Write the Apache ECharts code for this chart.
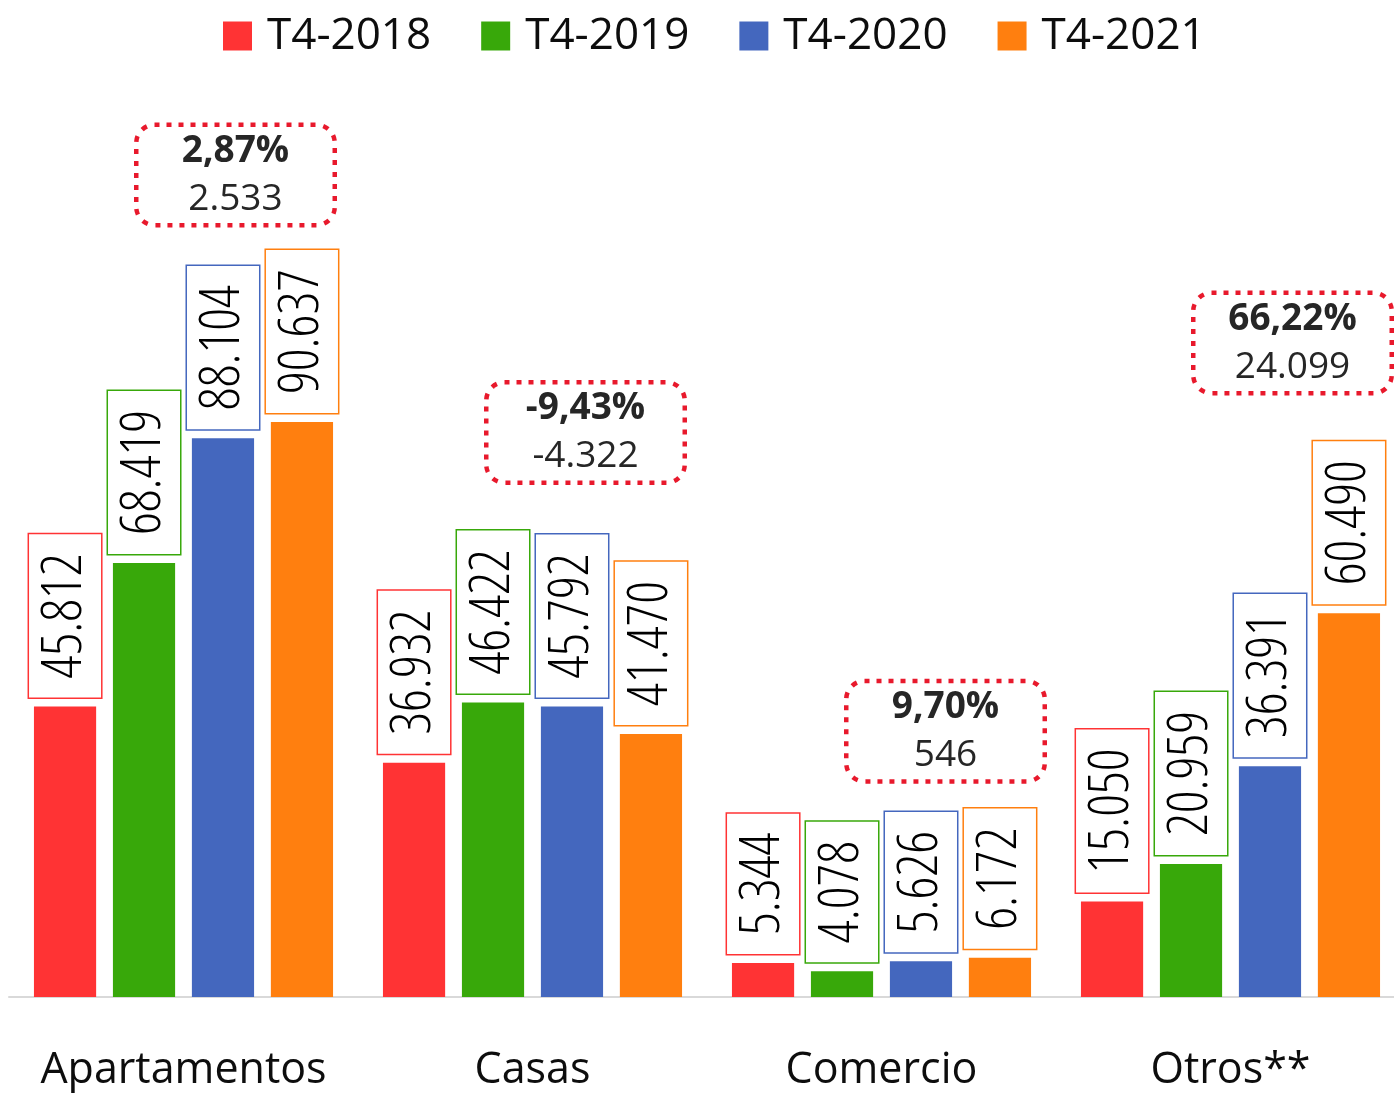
<!DOCTYPE html>
<html>
<head>
<meta charset="utf-8">
<script src="https://cdn.jsdelivr.net/npm/echarts@6/dist/echarts.min.js"></script>
<style>
  html, body { margin: 0; padding: 0; background: #ffffff; overflow: hidden; }
  #chart { width: 1405px; height: 1093px; }
</style>
</head>
<body>
<div id="chart"></div>
<script>
// ---- data ----
const categories = ['Apartamentos', 'Casas', 'Comercio', 'Otros**'];
const seriesNames = ['T4-2018', 'T4-2019', 'T4-2020', 'T4-2021'];
const v2018 = [45812, 36932, 5344, 15050];
const v2019 = [68419, 46422, 4078, 20959];
const v2020 = [88104, 45792, 5626, 36391];
const v2021 = [90637, 41470, 6172, 60490];
const pctChange = ['2,87%', '-9,43%', '9,70%', '66,22%'];
const absChange = ['2.533', '-4.322', '546', '24.099'];

// ---- layout / style ----
const colors = ['#FF3334', '#38A80A', '#4467BE', '#FF7F0F'];
const annotY = [129600, 89000, 41900, 103100];   // vertical anchor of each change box (value units)
const annotDx = [52, 53, 64, 62];                 // horizontal shift from category centre (px)

function fmt(v) {
  return String(v).replace(/\B(?=(\d{3})+(?!\d))/g, '.');
}

const chart = echarts.init(document.getElementById('chart'), null, { renderer: 'canvas' });

const allValues = [v2018, v2019, v2020, v2021];
const barSeries = allValues.map((vals, i) => ({
  name: seriesNames[i],
  type: 'bar',
  data: vals,
  barGap: '27%',
  barCategoryGap: '14.3%',
  itemStyle: { color: colors[i] },
  label: {
    show: true,
    position: 'top',
    distance: 9,
    rotate: 90,
    align: 'left',
    verticalAlign: 'middle',
    formatter: p => fmt(p.value),
    fontFamily: "'Open Sans', sans-serif",
    fontWeight: '300 condensed',
    fontSize: 56,
    lineHeight: 56,
    color: '#000000',
    backgroundColor: '#ffffff',
    borderColor: colors[i],
    borderWidth: 1.5,
    padding: [8, 19, 8, 19]
  }
}));

const annotSeries = {
  type: 'scatter',
  silent: true,
  symbolSize: 1,
  itemStyle: { color: 'rgba(0,0,0,0)', opacity: 1 },
  z: 5,
  data: categories.map((c, i) => ({
    value: [i, annotY[i]],
    label: { offset: [annotDx[i], 0] }
  })),
  label: {
    show: true,
    position: 'inside',
    formatter: p => '{b|' + pctChange[p.dataIndex] + '}\n{n|' + absChange[p.dataIndex] + '}',
    width: 190,
    align: 'center',
    verticalAlign: 'middle',
    backgroundColor: '#ffffff',
    borderColor: '#E8192C',
    borderWidth: 4.5,
    borderType: [5, 7],
    borderRadius: 16,
    padding: [0, 2],
    rich: {
      b: { fontFamily: "'Open Sans', sans-serif", fontWeight: 'bold', fontSize: 37, lineHeight: 48, color: '#262626', align: 'center' },
      n: { fontFamily: "'Open Sans', sans-serif", fontSize: 37, lineHeight: 48, color: '#262626', align: 'center' }
    }
  }
};

chart.setOption({
  animation: false,
  backgroundColor: '#ffffff',
  color: colors,
  legend: {
    data: seriesNames,
    left: 218,
    top: 9,
    icon: 'rect',
    itemWidth: 29,
    itemHeight: 29,
    itemGap: 50,
    textStyle: {
      fontFamily: "'Open Sans', sans-serif",
      fontSize: 44,
      color: '#0d0d0d',
      padding: [0, 0, 0, 10]
    }
  },
  grid: { left: 9, right: 0, top: 109, bottom: 96, containLabel: false },
  xAxis: {
    type: 'category',
    data: categories,
    axisLine: { show: true, lineStyle: { color: '#d9d9d9', width: 2 } },
    axisTick: { show: false },
    axisLabel: {
      interval: 0,
      fontFamily: "'Open Sans', sans-serif",
      fontSize: 43,
      color: '#0d0d0d',
      margin: 52
    }
  },
  yAxis: {
    type: 'value',
    min: 0,
    max: 140000,
    show: false,
    splitLine: { show: false }
  },
  series: [...barSeries, annotSeries]
});
</script>
</body>
</html>
